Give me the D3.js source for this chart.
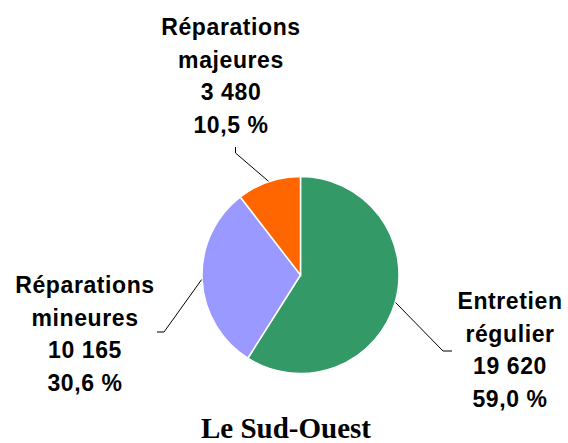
<html><head>
<style>
body { margin: 0; background: white; }
svg { display: block; }
.lbl { font-family: Arial, 'Liberation Sans', sans-serif; font-weight: bold; font-size: 23px; fill: #000; letter-spacing: 0.6px; }
.title { font-family: 'Times New Roman', 'Liberation Serif', serif; font-weight: bold; font-size: 29px; }
</style>
</head>
<body>
<svg id="chart" width="568" height="443"></svg>
<script src="https://d3js.org/d3.v7.min.js"></script>
<script>
// data
const categories = ["Entretien régulier", "Réparations mineures", "Réparations majeures"];
const labelLines = [["Entretien", "régulier"], ["Réparations", "mineures"], ["Réparations", "majeures"]];
const values = [19620, 10165, 3480];
const percents = ["59,0 %", "30,6 %", "10,5 %"];
const colors = ["#339966", "#9999FF", "#FF6600"];
const title = "Le Sud-Ouest";

const svg = d3.select("#chart");
const cx = 300.5, cy = 275, r = 98.5;

const pie = d3.pie().sort(null).value(d => d);
const arcs = pie(values);
const arc = d3.arc().innerRadius(0).outerRadius(r);

const g = svg.append("g").attr("transform", `translate(${cx},${cy})`);
g.selectAll("path")
  .data(arcs)
  .join("path")
  .attr("d", arc)
  .attr("fill", (d, i) => colors[i])
  .attr("stroke", "#fff")
  .attr("stroke-width", 1.5);

// label layout: text centre x, first baseline y, leader elbow and end
const layout = [
  { x: 510, y: 309, elbow: [443, 351], end: [452, 351] },
  { x: 85, y: 293, elbow: [164, 332], end: [157, 332] },
  { x: 231, y: 35, elbow: [235.5, 153], end: [235.5, 147] }
];

const fmt = v => d3.format(",")(v).replace(/,/g, " ");

arcs.forEach((a, i) => {
  const mid = (a.startAngle + a.endAngle) / 2;
  const sx = cx + Math.sin(mid) * (r + 0.5);
  const sy = cy - Math.cos(mid) * (r + 0.5);
  const L = layout[i];
  svg.append("polyline")
    .attr("points", [[sx, sy], L.elbow, L.end].map(p => p.join(",")).join(" "))
    .attr("fill", "none")
    .attr("stroke", "#000")
    .attr("stroke-width", 1);

  const lines = labelLines[i].concat([fmt(values[i]), percents[i]]);
  const t = svg.append("text").attr("class", "lbl").attr("text-anchor", "middle");
  lines.forEach((s, k) => {
    t.append("tspan").attr("x", L.x).attr("y", L.y + k * 32.5).text(s);
  });
});

svg.append("text")
  .attr("class", "title")
  .attr("x", 286)
  .attr("y", 438)
  .attr("text-anchor", "middle")
  .text(title);
</script>
</body>
</html>
